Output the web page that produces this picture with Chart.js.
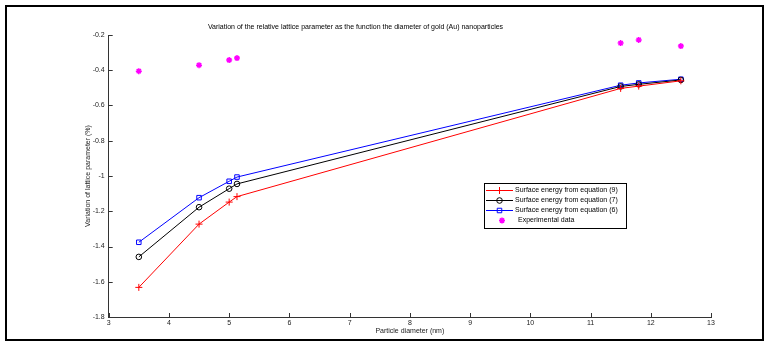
<!DOCTYPE html>
<html>
<head>
<meta charset="utf-8">
<script src="https://cdn.jsdelivr.net/npm/chart.js@4"></script>
<style>
  html, body { margin: 0; padding: 0; background: #fff; }
  #wrap { width: 771px; height: 350px; }
</style>
</head>
<body>
<div id="wrap"><canvas id="chart" width="771" height="350"></canvas></div>
<script>
const diameters = [3.5, 4.5, 5.0, 5.13, 11.5, 11.8, 12.5]
const eq9 = [-1.632, -1.273, -1.148, -1.117, -0.503, -0.490, -0.460]
const eq7 = [-1.459, -1.177, -1.072, -1.045, -0.492, -0.480, -0.455]
const eq6 = [-1.376, -1.123, -1.030, -1.006, -0.485, -0.472, -0.451]
const experimental = [-0.405, -0.371, -0.342, -0.331, -0.246, -0.228, -0.263]
const xTicks = [3, 4, 5, 6, 7, 8, 9, 10, 11, 12, 13]
const yTicks = [-1.8, -1.6, -1.4, -1.2, -1, -0.8, -0.6, -0.4, -0.2]

const font = 'Liberation Sans, Arial, sans-serif'
const pts = ys => diameters.map((d, i) => ({ x: d, y: ys[i] }))

const series = [
    { label: 'Surface energy from equation (9)', data: pts(eq9), color: '#ff0000', style: 'cross', r: 3.5, line: true },
    { label: 'Surface energy from equation (7)', data: pts(eq7), color: '#000000', style: 'circle', r: 2.8, line: true },
    { label: 'Surface energy from equation (6)', data: pts(eq6), color: '#0000ff', style: 'rect', r: 3.2, line: true },
    { label: 'Experimental data', data: pts(experimental), color: '#ff00ff', style: 'star', r: 3, line: false }
]

// frame, inward ticks and in-plot legend
const extras = {
    id: 'extras',
    afterDraw(chart) {
        const c = chart.ctx
        const xs = chart.scales.x, ys = chart.scales.y
        c.save()
        c.strokeStyle = '#000'
        c.lineWidth = 2
        c.strokeRect(6, 6, 757, 334)

        c.strokeStyle = '#333'
        c.lineWidth = 1
        c.beginPath()
        xTicks.forEach(v => {
            const px = Math.round(xs.getPixelForValue(v)) + 0.5
            c.moveTo(px, ys.bottom); c.lineTo(px, ys.bottom - 4)
        })
        yTicks.forEach(v => {
            const py = Math.round(ys.getPixelForValue(v)) + 0.5
            c.moveTo(xs.left, py); c.lineTo(xs.left + 4, py)
        })
        c.stroke()

        // legend box
        const lx = 484, ly = 183, lw = 142, lh = 45
        c.fillStyle = '#fff'
        c.fillRect(lx, ly, lw, lh)
        c.strokeStyle = '#000'
        c.lineWidth = 1
        c.strokeRect(lx + 0.5, ly + 0.5, lw, lh)
        c.font = '7px ' + font
        c.textBaseline = 'middle'
        series.forEach((s, i) => {
            const y = ly + 7.5 + i * 10
            c.strokeStyle = s.color
            if (s.line) {
                c.fillStyle = 'rgba(0,0,0,0)'
                c.lineWidth = 1
                c.beginPath(); c.moveTo(486, y); c.lineTo(513, y); c.stroke()
                Chart.helpers.drawPoint(c, { pointStyle: s.style, radius: s.r, borderWidth: 1, rotation: 0 }, 499.5, y)
                c.fillStyle = '#000'
                c.fillText(s.label, 515, y)
            } else {
                c.fillStyle = s.color
                c.lineWidth = 1.5
                Chart.helpers.drawPoint(c, { pointStyle: s.style, radius: s.r, borderWidth: 1.5, rotation: 0 }, 502, y)
                c.fillStyle = '#000'
                c.fillText(s.label, 518, y)
            }
        })
        c.restore()
    }
}

new Chart(document.getElementById('chart'), {
    type: 'line',
    data: {
        datasets: series.map(s => ({
            label: s.label,
            data: s.data,
            borderColor: s.color,
            backgroundColor: s.line ? 'rgba(0,0,0,0)' : s.color,
            borderWidth: 1,
            showLine: s.line,
            pointStyle: s.style,
            pointRadius: s.r,
            pointBorderWidth: s.line ? 1 : 1.5,
            pointBorderColor: s.color,
            pointBackgroundColor: s.line ? 'rgba(0,0,0,0)' : s.color,
            tension: 0
        }))
    },
    plugins: [extras],
    options: {
        responsive: false,
        animation: false,
        events: [],
        layout: { padding: { left: 0, right: 60, top: 0, bottom: 0 } },
        plugins: {
            legend: { display: false },
            tooltip: { enabled: false },
            title: {
                display: true,
                text: 'Variation of the relative lattice parameter as the function the diameter of gold (Au) nanoparticles',
                color: '#000',
                font: { family: font, size: 7, weight: 'normal' },
                padding: { top: 23, bottom: 3.6 }
            }
        },
        scales: {
            x: {
                type: 'linear',
                min: 3, max: 13,
                afterBuildTicks: s => { s.ticks = xTicks.map(v => ({ value: v })) },
                afterFit: s => { s.height = 33 },
                grid: { display: false, drawTicks: false },
                border: { display: true, color: '#333', width: 1 },
                ticks: { color: '#222', font: { family: font, size: 7 }, padding: 2, maxRotation: 0, callback: v => String(v) },
                title: { display: true, text: 'Particle diameter (nm)', color: '#222', font: { family: font, size: 7 }, padding: { top: 14.8, bottom: 14.8 } }
            },
            y: {
                min: -1.8, max: -0.2,
                afterBuildTicks: s => { s.ticks = yTicks.map(v => ({ value: v })) },
                afterFit: s => { s.width = 108.7 },
                grid: { display: false, drawTicks: false },
                border: { display: true, color: '#333', width: 1 },
                ticks: { color: '#222', font: { family: font, size: 7 }, padding: 4, callback: v => String(Math.round(v * 10) / 10) },
                title: { display: true, text: 'Variation of lattice parameter (%)', color: '#222', font: { family: font, size: 7 }, padding: { top: 83.8, bottom: 83.8 } }
            }
        }
    }
})
</script>
</body>
</html>
